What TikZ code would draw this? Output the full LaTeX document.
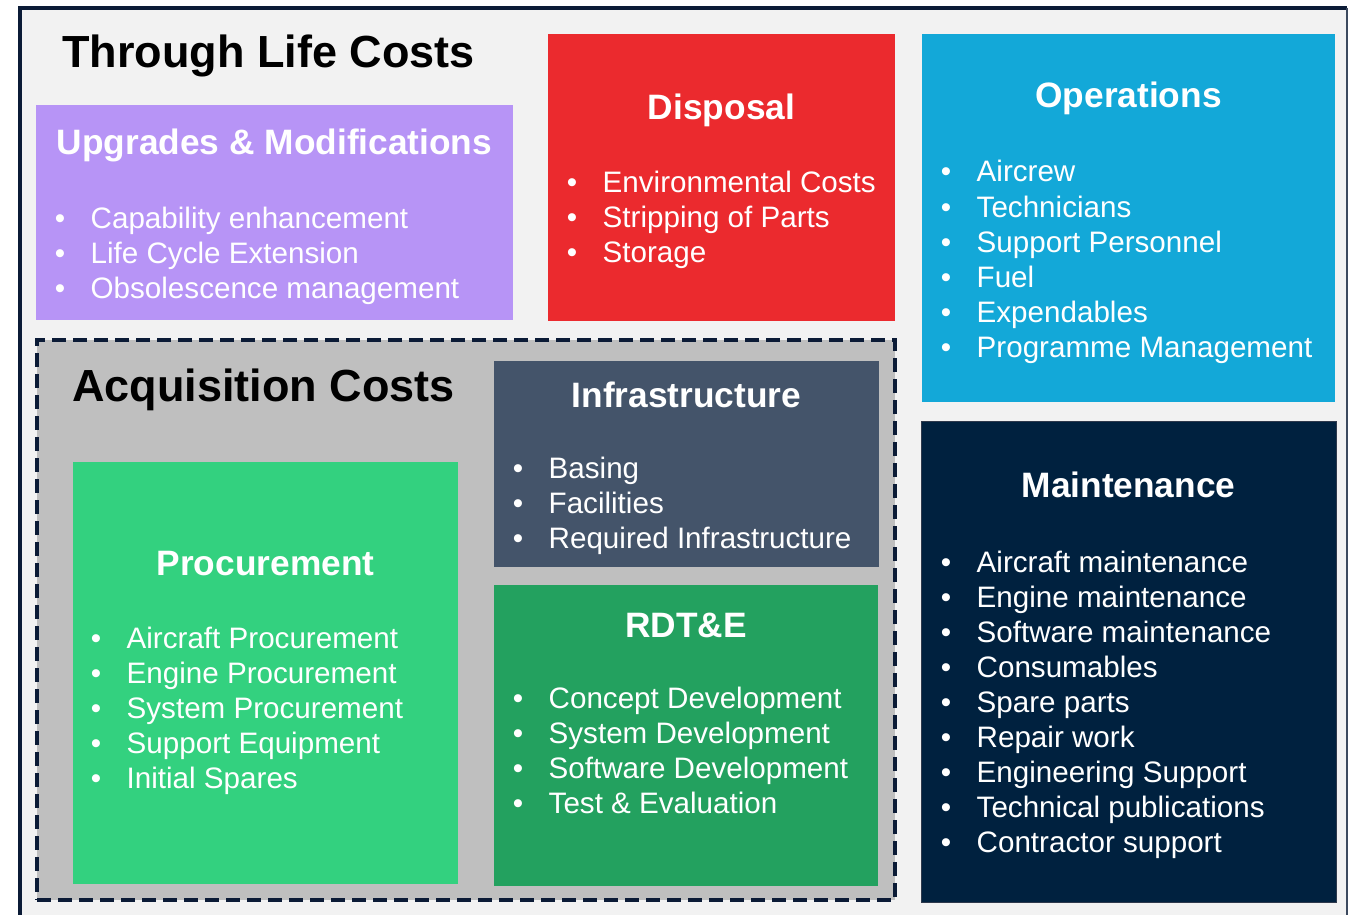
\documentclass[tikz,border=0pt]{standalone}
\usepackage{fontspec}
\setmainfont{Liberation Sans}
\usetikzlibrary{positioning}

\definecolor{frame}{HTML}{0B1B36}
\definecolor{paper}{HTML}{F2F2F2}
\definecolor{lavender}{HTML}{B794F6}
\definecolor{disposalred}{HTML}{EB2A2E}
\definecolor{opsblue}{HTML}{13A8D8}
\definecolor{maintnavy}{HTML}{00213F}
\definecolor{acqgray}{HTML}{BFBFBF}
\definecolor{infraslate}{HTML}{44546A}
\definecolor{rdtegreen}{HTML}{23A15F}
\definecolor{procgreen}{HTML}{33D17F}

% one bulleted line per item, 35px apart
\newcommand\costlist[4]{%
  \foreach \txt [count=\k] in {#4}
    \node[listitem] (#1-\k) at (#2,{#3+35.1*(\k-1)}) {\llap{\textbullet\hspace{25.5pt}}\txt};}

\begin{document}
\begin{tikzpicture}[x=1pt,y=-1pt,
  costbox/.style 2 args={anchor=north west,inner sep=0,outer sep=0,minimum width=#1,minimum height=#2},
  boxtitle/.style={anchor=base,inner sep=0,text=white,font=\fontsize{35.3}{42}\selectfont\bfseries},
  listitem/.style={anchor=base west,inner sep=0,text=white,font=\fontsize{29.6}{35}\selectfont},
  bigtitle/.style={anchor=base west,inner sep=0,font=\fontsize{45}{54}\selectfont\bfseries}]
  \useasboundingbox (0,0) rectangle (1349,915);
  \fill[paper] (20,8) rectangle (1347,930);
  \draw[frame,line width=3.5] (20,930) |- (1347,8);
  \draw[frame!80,line width=1.5] (1347,8) -- (1347,930);

  % cost boxes
  \node[costbox={477}{215},fill=lavender] (upgrades) at (36,105) {};
  \node[costbox={347}{287},fill=disposalred] (disposal) at (548,34) {};
  \node[costbox={413}{368},fill=opsblue] (operations) at (922,34) {};
  \node[costbox={415}{481},fill=maintnavy,draw=frame!70!gray,line width=1] (maintenance) at (921,421) {};
  \node[costbox={858}{560},fill=acqgray,draw=frame,line width=3.5,dash pattern=on 14pt off 7pt] (acquisition) at (37,340) {};
  \node[costbox={385}{206},fill=infraslate] (infrastructure) at (494,361) {};
  \node[costbox={384}{301},fill=rdtegreen] (rdte) at (494,585) {};
  \node[costbox={385}{422},fill=procgreen] (procurement) at (73,462) {};

  % headings
  \node[bigtitle] (tlc) at (62,68) {Through Life Costs};
  \node[bigtitle] (acq-title) at (72,401) {Acquisition Costs};
  \node[boxtitle] (upgrades-title) at ([yshift=-49pt]upgrades.north) {Upgrades \& Modifications};
  \node[boxtitle] (disposal-title) at ([yshift=-86pt]disposal.north) {Disposal};
  \node[boxtitle] (operations-title) at ([yshift=-74pt]operations.north) {Operations};
  \node[boxtitle] (maintenance-title) at ([yshift=-76pt]maintenance.north) {Maintenance};
  \node[boxtitle] (infrastructure-title) at ([yshift=-46pt]infrastructure.north) {Infrastructure};
  \node[boxtitle] (rdte-title) at ([yshift=-52pt]rdte.north) {RDT\&E};
  \node[boxtitle] (procurement-title) at ([yshift=-113pt]procurement.north) {Procurement};

  % items
  \costlist{upgrades}{90.5}{228}{Capability enhancement,Life Cycle Extension,Obsolescence management}
  \costlist{disposal}{602.5}{192}{Environmental Costs,Stripping of Parts,Storage}
  \costlist{operations}{976.5}{182}{Aircrew,Technicians,Support Personnel,Fuel,Expendables,Programme Management}
  \costlist{maintenance}{976.5}{572}{Aircraft maintenance,Engine maintenance,Software maintenance,Consumables,Spare parts,Repair work,Engineering Support,Technical publications,Contractor support}
  \costlist{infrastructure}{548.5}{478}{Basing,Facilities,Required Infrastructure}
  \costlist{rdte}{548.5}{708}{Concept Development,System Development,Software Development,Test \& Evaluation}
  \costlist{procurement}{126.5}{648}{Aircraft Procurement,Engine Procurement,System Procurement,Support Equipment,Initial Spares}
\end{tikzpicture}
\end{document}
